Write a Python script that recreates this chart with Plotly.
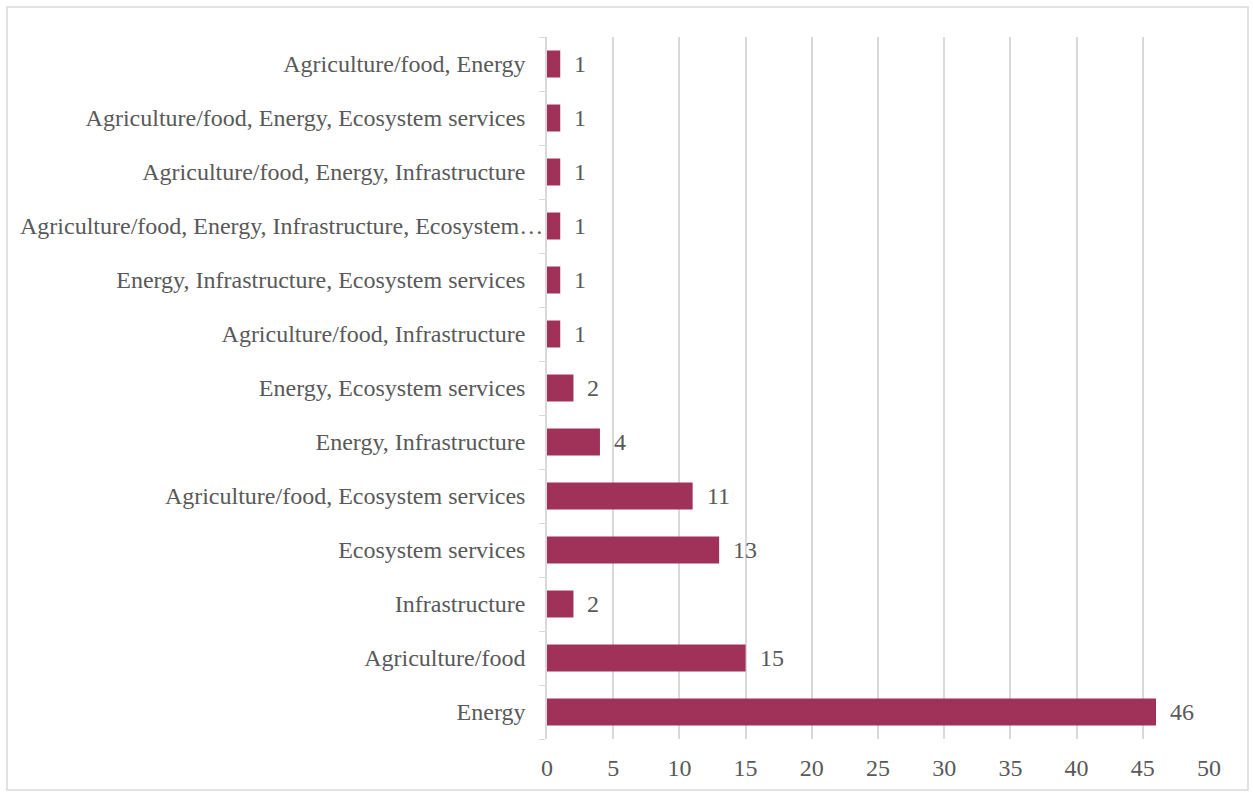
import plotly.graph_objects as go

# Sectors covered, listed bottom to top
sectors = [
    "Energy",
    "Agriculture/food",
    "Infrastructure",
    "Ecosystem services",
    "Agriculture/food, Ecosystem services",
    "Energy, Infrastructure",
    "Energy, Ecosystem services",
    "Agriculture/food, Infrastructure",
    "Energy, Infrastructure, Ecosystem services",
    "Agriculture/food, Energy, Infrastructure, Ecosystem services",
    "Agriculture/food, Energy, Infrastructure",
    "Agriculture/food, Energy, Ecosystem services",
    "Agriculture/food, Energy",
]
counts = [46, 15, 2, 13, 11, 4, 2, 1, 1, 1, 1, 1, 1]
x_ticks = [0, 5, 10, 15, 20, 25, 30, 35, 40, 45, 50]

MAX_LABEL = 55  # longer category names are shortened and set closer to the axis

BAR = "#A0325A"
GRID = "#d9d9d9"
TEXT = "#595959"
FONT = "Liberation Serif"
SIZE = 24

short = [len(s) < MAX_LABEL for s in sectors]
tick_text = [s if ok else "" for s, ok in zip(sectors, short)]

fig = go.Figure(
    go.Bar(
        y=sectors,
        x=counts,
        orientation="h",
        width=0.5,
        marker=dict(color=BAR, line=dict(width=0)),
        hoverinfo="x+y",
    )
)

# Value labels to the right of each bar
for s, v in zip(sectors, counts):
    fig.add_annotation(
        x=v, y=s, text=str(v), showarrow=False,
        xanchor="left", xshift=12,
        font=dict(family=FONT, size=SIZE, color=TEXT),
    )

# Shortened category names
for s, ok in zip(sectors, short):
    if not ok:
        fig.add_annotation(
            xref="paper", x=-2 / 662, y=s, yref="y",
            text=s[:s.rfind(" ")] + "\u2026", showarrow=False,
            xanchor="right",
            font=dict(family=FONT, size=SIZE, color=TEXT),
        )

# Light frame around the whole chart
fig.add_shape(
    type="rect", xref="paper", yref="paper",
    x0=(7 - 547) / 662, x1=(1248 - 547) / 662,
    y0=(739 - 790) / 702, y1=(739 - 7) / 702,
    line=dict(color=GRID, width=1.5), fillcolor="rgba(0,0,0,0)",
    layer="below",
)

fig.update_layout(
    width=1253, height=793,
    margin=dict(l=547, r=44, t=37, b=54),
    paper_bgcolor="white", plot_bgcolor="white",
    showlegend=False,
    font=dict(family=FONT, size=SIZE, color=TEXT),
    xaxis=dict(
        range=[0, 50], tickvals=x_ticks, ticktext=[str(t) for t in x_ticks],
        showgrid=True, gridcolor=GRID, gridwidth=1.5,
        zeroline=False, showline=False, ticks="",
        ticklabelstandoff=12,
        tickfont=dict(family=FONT, size=SIZE, color=TEXT),
        fixedrange=True,
    ),
    yaxis=dict(
        type="category",
        categoryorder="array", categoryarray=sectors,
        tickvals=sectors, ticktext=tick_text,
        tickson="boundaries", ticks="outside", ticklen=6, tickcolor=GRID,
        showgrid=False, showline=True, linecolor=GRID, linewidth=1.5,
        ticklabelstandoff=15,
        tickfont=dict(family=FONT, size=SIZE, color=TEXT),
        fixedrange=True,
    ),
    bargap=0.5,
)

fig.write_html("out.html")
